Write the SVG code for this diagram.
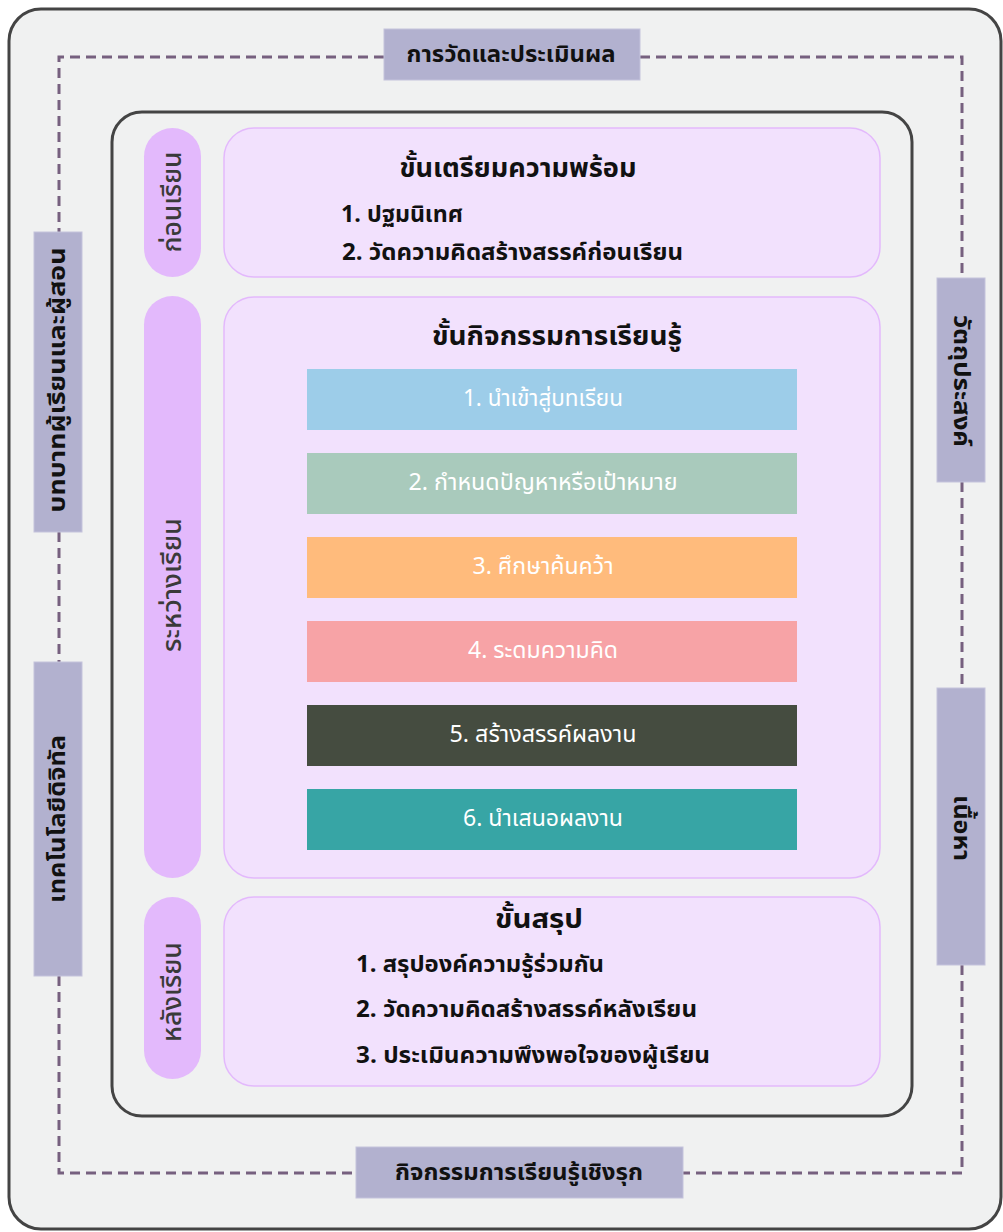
<svg xmlns="http://www.w3.org/2000/svg" width="1003" height="1232" viewBox="0 0 1003 1232">
<style>
text{font-family:"Noto Sans Thai","Noto Sans","DejaVu Sans",sans-serif;}
.frame{fill:#f0f1f1;stroke:#444;stroke-width:3}
.dash{fill:none;stroke:#76607f;stroke-width:3;stroke-dasharray:10 6}
.lab{fill:#b2b1cf;stroke:#c4c3dc;stroke-width:1}
.labt{font-size:23px;font-weight:bold;fill:#111;text-anchor:middle;dominant-baseline:central}
.pill{fill:#e3b9fc}
.pillt{font-size:26px;font-weight:500;fill:#3a3a3a;text-anchor:middle;dominant-baseline:central}
.card{fill:#f2e1fd;stroke:#e3b9fc;stroke-width:1.5}
.h{font-size:27px;font-weight:bold;fill:#111;text-anchor:middle}
.it{font-size:23px;font-weight:bold;fill:#111}
.bart{font-size:23px;fill:#fff;text-anchor:middle;dominant-baseline:central}
</style>
<rect x="0" y="0" width="1003" height="1232" fill="#fff"/>
<rect class="frame" x="9" y="9" width="992" height="1220" rx="32"/>
<g id="connectors">
<polyline class="dash" points="384,57 59,57 59,232"/>
<line class="dash" x1="59" y1="532" x2="59" y2="662"/>
<polyline class="dash" points="59,976 59,1173 356,1173"/>
<polyline class="dash" points="640,57 962,57 962,278"/>
<line class="dash" x1="962" y1="482" x2="962" y2="688"/>
<polyline class="dash" points="962,965 962,1173 683,1173"/>
</g>
<rect class="frame" x="112" y="112" width="800" height="1004" rx="30"/>
<g id="label-eval"><rect class="lab" x="384" y="29" width="256" height="51"/><text class="labt" x="511" y="55" textLength="209" lengthAdjust="spacingAndGlyphs">การวัดและประเมินผล</text></g>
<g id="label-roles"><rect class="lab" x="34" y="232" width="48" height="300"/><text class="labt" transform="translate(58,380) rotate(-90)" textLength="265" lengthAdjust="spacingAndGlyphs">บทบาทผู้เรียนและผู้สอน</text></g>
<g id="label-tech"><rect class="lab" x="34" y="662" width="48" height="314"/><text class="labt" transform="translate(58,819) rotate(-90)" textLength="168" lengthAdjust="spacingAndGlyphs">เทคโนโลยีดิจิทัล</text></g>
<g id="label-objective"><rect class="lab" x="937" y="278" width="48" height="204"/><text class="labt" transform="translate(961,381) rotate(90)" textLength="132" lengthAdjust="spacingAndGlyphs">วัตถุประสงค์</text></g>
<g id="label-content"><rect class="lab" x="937" y="688" width="48" height="277"/><text class="labt" transform="translate(961,828) rotate(90)" textLength="66" lengthAdjust="spacingAndGlyphs">เนื้อหา</text></g>
<g id="label-active"><rect class="lab" x="356" y="1147" width="327" height="51"/><text class="labt" x="519" y="1173" textLength="248" lengthAdjust="spacingAndGlyphs">กิจกรรมการเรียนรู้เชิงรุก</text></g>
<g id="pill-before"><rect class="pill" x="144" y="128" width="57" height="149" rx="28.5"/><text class="pillt" transform="translate(173,202) rotate(-90)" textLength="101" lengthAdjust="spacingAndGlyphs">ก่อนเรียน</text></g>
<g id="pill-during"><rect class="pill" x="144" y="296" width="57" height="582" rx="28.5"/><text class="pillt" transform="translate(173,585) rotate(-90)" textLength="134" lengthAdjust="spacingAndGlyphs">ระหว่างเรียน</text></g>
<g id="pill-after"><rect class="pill" x="144" y="897" width="57" height="182" rx="28.5"/><text class="pillt" transform="translate(173,992) rotate(-90)" textLength="100" lengthAdjust="spacingAndGlyphs">หลังเรียน</text></g>
<g id="card-prepare"><rect class="card" x="224" y="128" width="656" height="149" rx="30"/>
<text class="h" x="518" y="177" textLength="237" lengthAdjust="spacingAndGlyphs">ขั้นเตรียมความพร้อม</text>
<text class="it" x="341" y="222" textLength="122" lengthAdjust="spacingAndGlyphs">1. ปฐมนิเทศ</text>
<text class="it" x="342" y="260" textLength="341" lengthAdjust="spacingAndGlyphs">2. วัดความคิดสร้างสรรค์ก่อนเรียน</text></g>
<g id="card-activity"><rect class="card" x="224" y="297" width="656" height="581" rx="30"/>
<text class="h" x="557" y="345" textLength="250" lengthAdjust="spacingAndGlyphs">ขั้นกิจกรรมการเรียนรู้</text></g>
<g id="step1"><rect x="307" y="369" width="490" height="61" fill="#9dcde9"/><text class="bart" x="543" y="399" textLength="160" lengthAdjust="spacingAndGlyphs">1. นำเข้าสู่บทเรียน</text></g>
<g id="step2"><rect x="307" y="453" width="490" height="61" fill="#a9cabc"/><text class="bart" x="543" y="483" textLength="269" lengthAdjust="spacingAndGlyphs">2. กำหนดปัญหาหรือเป้าหมาย</text></g>
<g id="step3"><rect x="307" y="537" width="490" height="61" fill="#ffbb7c"/><text class="bart" x="543" y="567" textLength="141" lengthAdjust="spacingAndGlyphs">3. ศึกษาค้นคว้า</text></g>
<g id="step4"><rect x="307" y="621" width="490" height="61" fill="#f7a3a6"/><text class="bart" x="543" y="651" textLength="150" lengthAdjust="spacingAndGlyphs">4. ระดมความคิด</text></g>
<g id="step5"><rect x="307" y="705" width="490" height="61" fill="#454c40"/><text class="bart" x="543" y="735" textLength="187" lengthAdjust="spacingAndGlyphs">5. สร้างสรรค์ผลงาน</text></g>
<g id="step6"><rect x="307" y="789" width="490" height="61" fill="#37a5a5"/><text class="bart" x="543" y="819" textLength="160" lengthAdjust="spacingAndGlyphs">6. นำเสนอผลงาน</text></g>
<g id="card-summary"><rect class="card" x="224" y="897" width="656" height="189" rx="30"/>
<text class="h" x="539" y="928" textLength="88" lengthAdjust="spacingAndGlyphs">ขั้นสรุป</text>
<text class="it" x="356" y="972" textLength="248" lengthAdjust="spacingAndGlyphs">1. สรุปองค์ความรู้ร่วมกัน</text>
<text class="it" x="356" y="1017" textLength="341" lengthAdjust="spacingAndGlyphs">2. วัดความคิดสร้างสรรค์หลังเรียน</text>
<text class="it" x="356" y="1063" textLength="354" lengthAdjust="spacingAndGlyphs">3. ประเมินความพึงพอใจของผู้เรียน</text></g>
</svg>
